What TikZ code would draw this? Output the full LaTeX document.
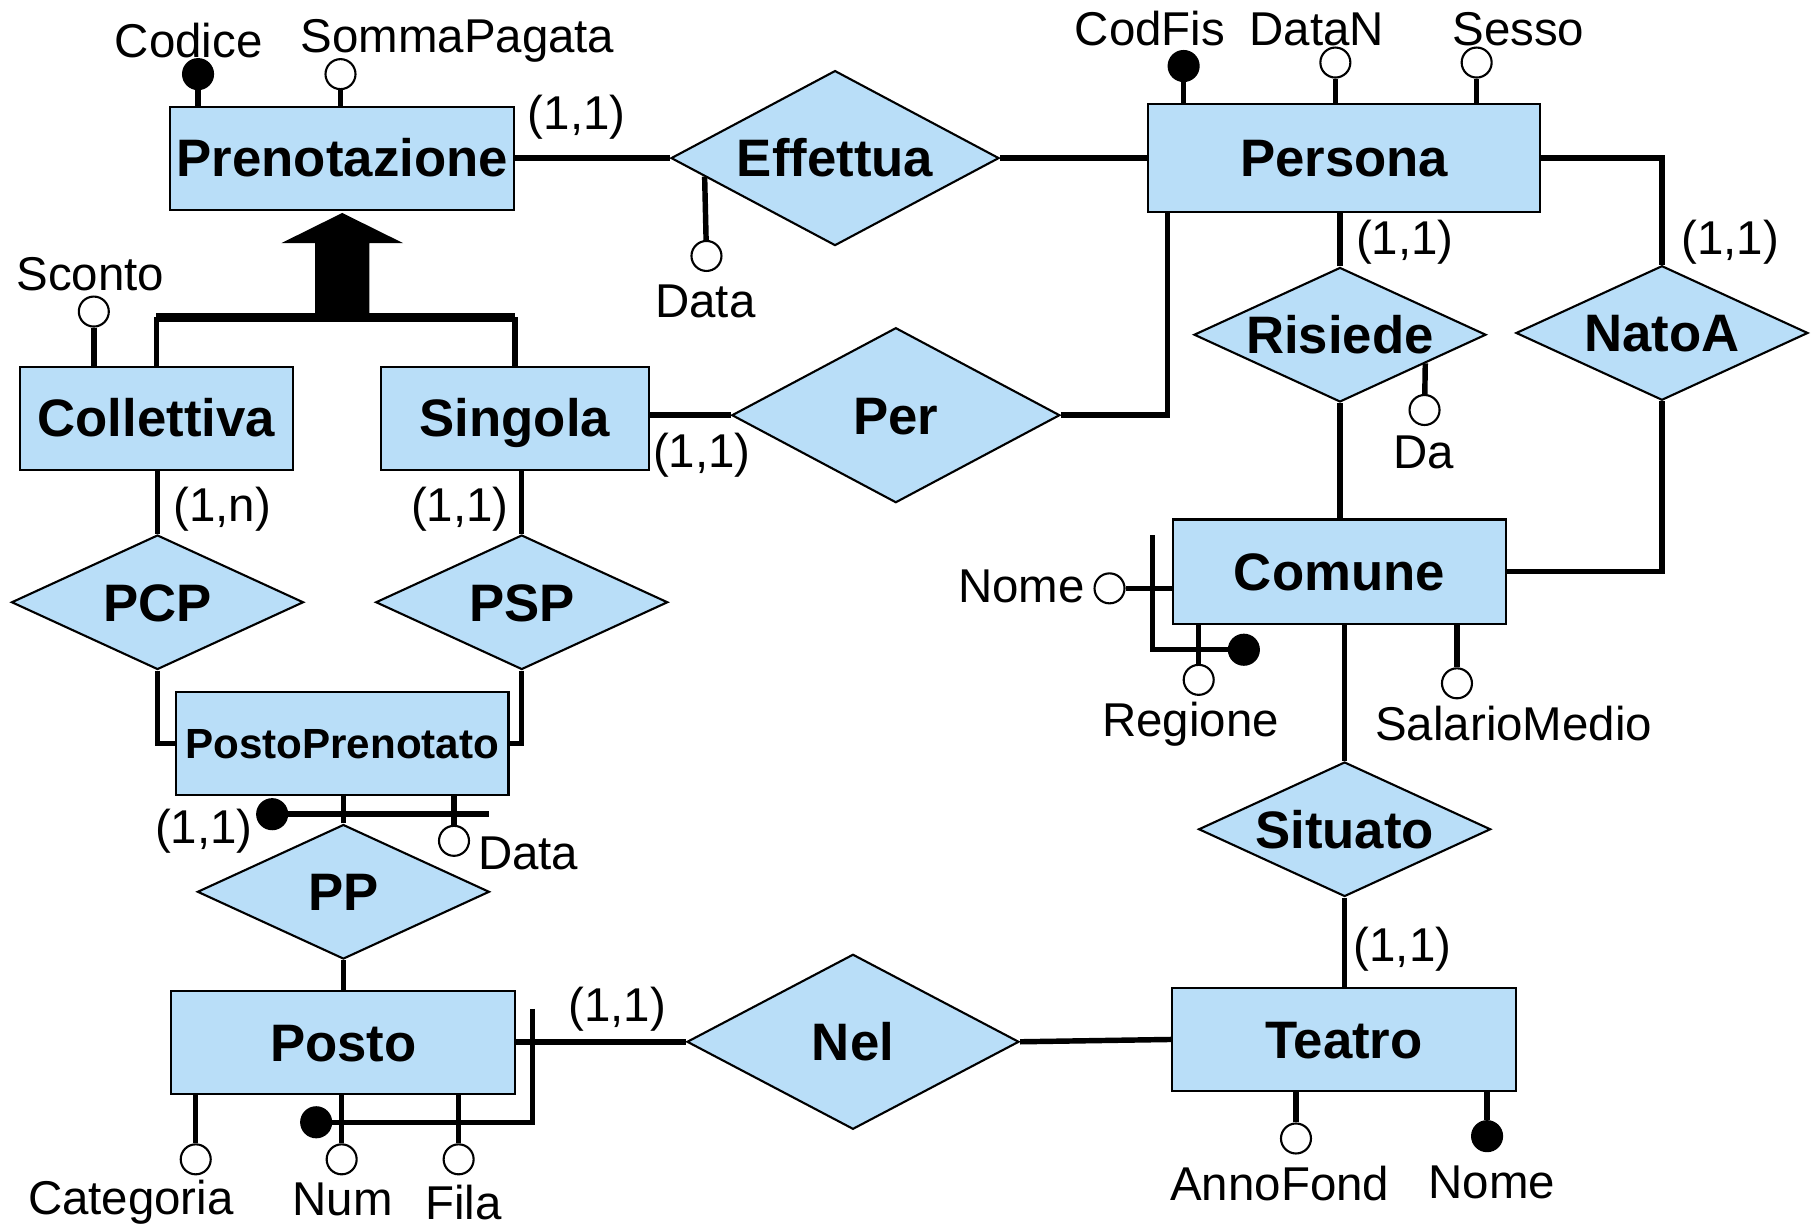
\documentclass[tikz,border=0pt]{standalone}
\usepackage{fontspec}
\setmainfont{Liberation Sans}
\definecolor{erblue}{RGB}{185,222,248}
\usetikzlibrary{shapes.geometric, calc}

\begin{document}
\begin{tikzpicture}[
  x=0.01158cm, y=-0.01158cm,
  ent/.style={rectangle, draw=black, line width=0.6pt, fill=erblue, minimum height=1.03cm, inner sep=0pt, text height=10.7pt, text depth=0pt, font=\fontsize{15}{18}\selectfont\bfseries},
  rel/.style={diamond, draw=black, line width=0.6pt, fill=erblue, inner sep=0pt, aspect=2.17, minimum width=2.92cm, minimum height=1.345cm, text height=10.7pt, text depth=0pt, font=\fontsize{15}{18}\selectfont\bfseries},
  bigrel/.style={rel, aspect=1.87, minimum width=3.28cm, minimum height=1.75cm},
  attr/.style={circle, draw=black, line width=0.6pt, fill=white, minimum size=0.3cm, inner sep=0pt},
  key/.style={attr, fill=black},
  conn/.style={line width=1.55pt},
  isa/.style={line width=2.4pt},
  lbl/.style={font=\fontsize{13.5}{16}\selectfont, inner sep=0pt}
]
  \useasboundingbox (0,0) rectangle (1568,1061);

  % entities
  \node[ent, minimum width=3.439cm] (pren) at (295.5,136.5) {Prenotazione};
  \node[ent, minimum width=3.926cm, minimum height=1.077cm] (pers) at (1160.5,136.5) {Persona};
  \node[ent, minimum width=2.733cm] (coll) at (135,361) {Collettiva};
  \node[ent, minimum width=2.675cm] (sing) at (444.5,361) {Singola};
  \node[ent, minimum width=3.324cm, text height=8.6pt, font=\fontsize{12}{14}\selectfont\bfseries] (pprn) at (295.5,642) {PostoPrenotato};
  \node[ent, minimum width=3.324cm, minimum height=1.042cm] (com) at (1156.5,493.5) {Comune};
  \node[ent, minimum width=3.439cm] (posto) at (296.5,900.5) {Posto};
  \node[ent, minimum width=3.439cm] (teat) at (1160.5,897.5) {Teatro};

  % relationships
  \node[bigrel] (eff) at (721,136.5) {Effettua};
  \node[rel] (ris) at (1157,289) {Risiede};
  \node[rel] (nat) at (1435,287.5) {NatoA};
  \node[bigrel] (per) at (773.5,358.5) {Per};
  \node[rel] (pcp) at (136,520) {PCP};
  \node[rel] (psp) at (450.5,520) {PSP};
  \node[rel] (pp) at (296.5,770) {PP};
  \node[rel] (sit) at (1161,716) {Situato};
  \node[bigrel, minimum width=3.32cm] (nel) at (736.5,899.5) {Nel};

  % generalization
  \fill ($(pren.south)+(0,2)$) -- ++(52.5,26) -- ++(-29,0) -- ++(0,63) -- ++(-47,0) -- ++(0,-63) -- ++(-29,0) -- cycle;
  \coordinate (isabar) at (296,274);
  \draw[conn] (coll.north) -- (coll.north |- isabar);
  \draw[conn] (sing.north) -- (sing.north |- isabar);
  \draw[isa] (coll.north |- isabar) -- (sing.north |- isabar);

  % links
  \draw[conn] (pren.east) -- (eff.west);
  \draw[conn] (eff.east) -- (pers.west);
  \draw[conn] (per.west) -- (per.west -| sing.east);
  \draw[conn] (per.east) -| ($(pers.south west)+(18,0)$);
  \draw[conn] (ris.north) -- (ris.north |- pers.south);
  \draw[conn] (pers.east) -| (nat.north);
  \draw[conn] (ris.south) -- (ris.south |- com.north);
  \draw[conn] (nat.south) |- (com.east);
  \draw[conn] (sit.north) -- (sit.north |- com.south);
  \draw[conn] (sit.south) -- (sit.south |- teat.north);
  \draw[conn] (nel.west) -- (nel.west -| posto.east);
  \draw[conn] (nel.east) -- (teat.west);
  \draw[conn] (pcp.north) -- (pcp.north |- coll.south);
  \draw[conn] (pcp.south) |- (pprn.west);
  \draw[conn] (psp.north) -- (psp.north |- sing.south);
  \draw[conn] (psp.south) |- (pprn.east);
  \draw[conn] (pp.north) -- (pp.north |- pprn.south);
  \draw[conn] (pp.south) -- (pp.south |- posto.north);

  % attributes
  \node[key] (cod) at (171,64) {};
  \node[attr] (som) at (294,64) {};
  \node[attr] (edat) at (610,221) {};
  \node[key] (cf) at (1022,57) {};
  \node[attr] (dn) at (1153,54) {};
  \node[attr] (ses) at (1275,54) {};
  \node[attr] (da) at (1230,354) {};
  \node[attr] (sco) at (81,269) {};
  \node[attr] (pdat) at (392,726) {};
  \node[key] (pkey) at (235,703) {};
  \node[attr] (cnom) at (958,508) {};
  \node[key] (ckey) at (1074,561) {};
  \node[attr] (reg) at (1035,587) {};
  \node[attr] (sal) at (1258,590) {};
  \node[attr] (cat) at (169,1001) {};
  \node[attr] (num) at (295,1001) {};
  \node[attr] (fila) at (396,1001) {};
  \node[key] (tkey) at (273,969) {};
  \node[attr] (ann) at (1119,983) {};
  \node[key] (tnom) at (1284,981) {};

  \draw[conn] (cod) -- (cod |- pren.north);
  \draw[conn] (som) -- (som |- pren.north);
  \draw[conn] (edat) -- ($(eff.west)!0.21!(eff.south)$);
  \draw[conn] (cf) -- (cf |- pers.north);
  \draw[conn] (dn) -- (dn |- pers.north);
  \draw[conn] (ses) -- (ses |- pers.north);
  \draw[conn] (da) -- ($(ris.east)!0.42!(ris.south)$);
  \draw[conn] (sco) -- (sco |- coll.north);
  \draw[conn] (pdat) -- (pdat |- pprn.south);
  \coordinate (pidend) at (422,703);
  \draw[conn] (pkey) -- (pidend);
  \draw[conn] (cnom) -- (cnom -| com.west);
  \coordinate (cidtop) at (995,462);
  \draw[conn] (cidtop) |- (ckey);
  \draw[conn] (reg) -- (reg |- com.south);
  \draw[conn] (sal) -- (sal |- com.south);
  \draw[conn] (cat) -- (cat |- posto.south);
  \draw[conn] (num) -- (num |- posto.south);
  \draw[conn] (fila) -- (fila |- posto.south);
  \coordinate (tidtop) at (460,871);
  \draw[conn] (tidtop) |- (tkey);
  \draw[conn] (ann) -- (ann |- teat.south);
  \draw[conn] (tnom) -- (tnom |- teat.south);

  % attribute names
  \node[lbl] (lcod) at (163,35) {Codice};
  \node[lbl] (lsom) at (395,35) {SommaPagata};
  \node[lbl] (ledat) at (609,260) {Data};
  \node[lbl] (lcf) at (993,25) {CodFis};
  \node[lbl] (ldn) at (1137,25) {DataN};
  \node[lbl] (lses) at (1311,25) {Sesso};
  \node[lbl] (lda) at (1229,391) {Da};
  \node[lbl] (lsco) at (78,237) {Sconto};
  \node[lbl] (lpdat) at (456,737) {Data};
  \node[lbl] (lcnom) at (882,506) {Nome};
  \node[lbl] (lreg) at (1028,625) {Regione};
  \node[lbl] (lsal) at (1307,625) {SalarioMedio};
  \node[lbl] (lcat) at (113,1038) {Categoria};
  \node[lbl] (lnum) at (296,1036) {Num};
  \node[lbl] (lfila) at (400,1038) {Fila};
  \node[lbl] (lann) at (1105,1022) {AnnoFond};
  \node[lbl] (ltnom) at (1288,1021) {Nome};

  % cardinalities
  \node[lbl] (c1) at (498,101) {(1,1)};
  \node[lbl] (c2) at (1213,209) {(1,1)};
  \node[lbl] (c3) at (1494,209) {(1,1)};
  \node[lbl] (c4) at (606,393) {(1,1)};
  \node[lbl] (c5) at (192,440) {(1,n)};
  \node[lbl] (c6) at (397,440) {(1,1)};
  \node[lbl] (c7) at (176,718) {(1,1)};
  \node[lbl] (c8) at (1211,820) {(1,1)};
  \node[lbl] (c9) at (533,871) {(1,1)};
\end{tikzpicture}
\end{document}
